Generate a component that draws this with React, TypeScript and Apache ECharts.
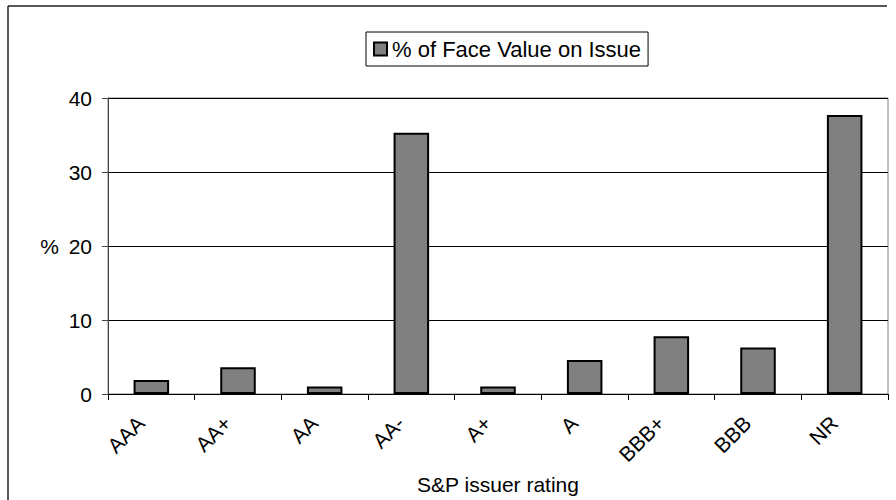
import React, { useEffect, useRef } from "react";
import * as echarts from "echarts";

const categories = ["AAA", "AA+", "AA", "AA-", "A+", "A", "BBB+", "BBB", "NR"];
const faceValuePct = [1.9, 3.6, 1.0, 35.3, 1.0, 4.6, 7.8, 6.3, 37.7];
const seriesName = "% of Face Value on Issue";
const yTicks = [0, 10, 20, 30, 40];

export default function App() {
  const ref = useRef<HTMLDivElement>(null);
  useEffect(() => {
    if (!ref.current) return;
    const chart = echarts.init(ref.current, undefined, { renderer: "svg" });
    const font = "'Liberation Sans', Arial, sans-serif";
    chart.setOption({
      animation: false,
      backgroundColor: "#ffffff",
      textStyle: { fontFamily: font, color: "#000" },
      graphic: [
        { type: "line", shape: { x1: 8, y1: 6, x2: 887, y2: 6 }, style: { stroke: "#222", lineWidth: 1.5 } },
        { type: "line", shape: { x1: 8, y1: 6, x2: 8, y2: 500 }, style: { stroke: "#222", lineWidth: 1.5 } },
      ],
      legend: {
        left: 366,
        top: 32,
        padding: [6, 7, 6, 7],
        borderColor: "#000",
        borderWidth: 1,
        itemWidth: 13,
        itemHeight: 13,
        textStyle: { fontFamily: font, fontSize: 22, color: "#000" },
        data: [{ name: seriesName, icon: "rect" }],
      },
      grid: {
        left: 108,
        top: 98,
        width: 780,
        height: 299,
        show: true,
        borderColor: "#808080",
        borderWidth: 1,
        containLabel: false,
      },
      xAxis: {
        type: "category",
        data: categories,
        boundaryGap: true,
        name: "S&P issuer rating",
        nameLocation: "middle",
        nameGap: 80,
        nameTextStyle: { fontFamily: font, fontSize: 21, color: "#000" },
        axisLine: { show: true, lineStyle: { color: "#000", width: 1 } },
        axisTick: { show: true, alignWithLabel: false, length: 6, lineStyle: { color: "#000" } },
        axisLabel: {
          rotate: 45,
          margin: 15,
          padding: [0, 15, 0, 0],
          fontFamily: font,
          fontSize: 21,
          color: "#000",
          interval: 0,
        },
      },
      yAxis: {
        type: "value",
        min: 0,
        max: 40,
        interval: 10,
        name: "%",
        nameLocation: "middle",
        nameRotate: 0,
        nameGap: 49,
        nameTextStyle: { fontFamily: font, fontSize: 21, color: "#000", align: "right", verticalAlign: "middle" },
        axisLine: { show: true, lineStyle: { color: "#444", width: 1 } },
        axisTick: { show: true, length: 6, lineStyle: { color: "#444" } },
        axisLabel: {
          margin: 16,
          fontFamily: font,
          fontSize: 21,
          color: "#000",
          customValues: yTicks,
        },
        splitLine: { show: true, lineStyle: { color: "#000", width: 1 } },
      },
      series: [
        {
          name: seriesName,
          type: "bar",
          data: faceValuePct,
          barWidth: "41%",
          itemStyle: { color: "#808080", borderColor: "#000", borderWidth: 2 },
        },
      ],
    });
    return () => chart.dispose();
  }, []);
  return (
    <div
      ref={ref}
      style={{ position: "absolute", left: 0, top: 0, width: 896, height: 500 }}
    />
  );
}
